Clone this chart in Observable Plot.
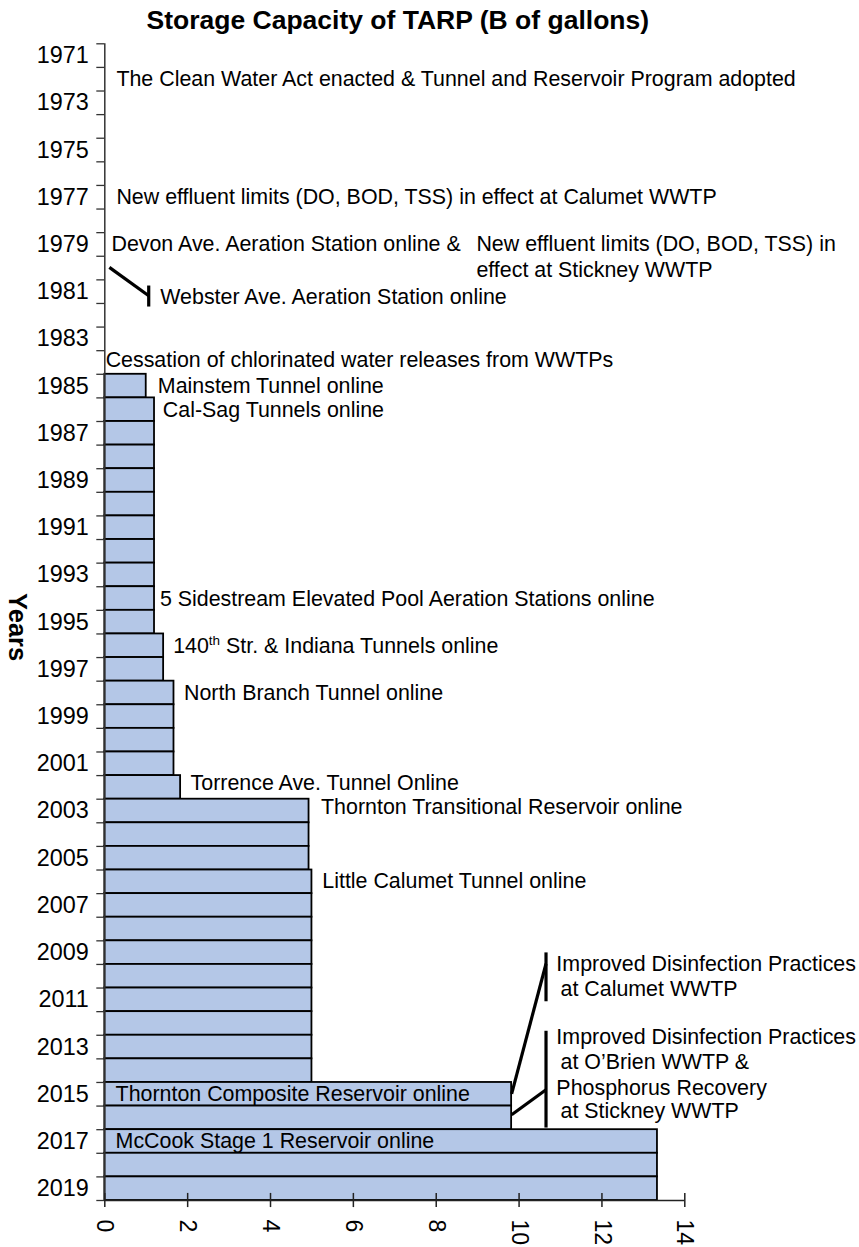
<!DOCTYPE html>
<html>
<head>
<meta charset="utf-8">
<script src="https://cdn.jsdelivr.net/npm/d3@7"></script>
<script src="https://cdn.jsdelivr.net/npm/@observablehq/plot@0.6"></script>
<style>
  html, body { margin: 0; padding: 0; background: #fff; }
  #chart svg { display: block; }
</style>
</head>
<body>
<div id="chart"></div>
<script>
// ---- data ----
const chartTitle = "Storage Capacity of TARP (B of gallons)";
const yAxisTitle = "Years";
const years = [1985, 1986, 1987, 1988, 1989, 1990, 1991, 1992, 1993, 1994, 1995,
  1996, 1997, 1998, 1999, 2000, 2001, 2002, 2003, 2004, 2005, 2006, 2007, 2008,
  2009, 2010, 2011, 2012, 2013, 2014, 2015, 2016, 2017, 2018, 2019];
const capacity = [1.0, 1.2, 1.2, 1.2, 1.2, 1.2, 1.2, 1.2, 1.2, 1.2, 1.2,
  1.42, 1.42, 1.67, 1.67, 1.67, 1.67, 1.83, 4.93, 4.93, 4.93, 5.0, 5.0, 5.0,
  5.0, 5.0, 5.0, 5.0, 5.0, 5.0, 9.82, 9.82, 13.34, 13.34, 13.34];
const yearLabels = [1971, 1973, 1975, 1977, 1979, 1981, 1983, 1985, 1987, 1989, 1991,
  1993, 1995, 1997, 1999, 2001, 2003, 2005, 2007, 2009, 2011, 2013, 2015, 2017, 2019];
const xTickLabels = [0, 2, 4, 6, 8, 10, 12, 14];

const eventText = [
  "The Clean Water Act enacted & Tunnel and Reservoir Program adopted",
  "New effluent limits (DO, BOD, TSS) in effect at Calumet WWTP",
  "Devon Ave. Aeration Station online &",
  "New effluent limits (DO, BOD, TSS) in",
  "effect at Stickney WWTP",
  "Webster Ave. Aeration Station online",
  "Cessation of chlorinated water releases from WWTPs",
  "Mainstem Tunnel online",
  "Cal-Sag Tunnels online",
  "5 Sidestream Elevated Pool Aeration Stations online",
  "140th Str. & Indiana Tunnels online",
  "North Branch Tunnel online",
  "Torrence Ave. Tunnel Online",
  "Thornton Transitional Reservoir online",
  "Little Calumet Tunnel online",
  "Thornton Composite Reservoir online",
  "McCook Stage 1 Reservoir online",
  "Improved Disinfection Practices",
  "at Calumet WWTP",
  "Improved Disinfection Practices",
  "at O\u2019Brien WWTP &",
  "Phosphorus Recovery",
  "at Stickney WWTP"
];
const eventX = [0.28, 0.28, 0.16, 8.97, 8.97, 1.34, 0.02, 1.28, 1.4, 1.33, 1.65, 1.91,
  2.07, 5.22, 5.25, 0.26, 0.26, 10.9, 11.0, 10.9, 11.0, 10.9, 11.0];
const eventYear = [1972, 1977, 1979, 1979, 1980.1, 1981.25, 1983.92, 1985, 1986, 1994.02,
  1996, 1998, 2001.83, 2002.85, 2005.97, 2015, 2017, 2009.48, 2010.54, 2012.6, 2013.66,
  2014.72, 2015.7];

// leader lines (data coordinates)
const leaderX1 = [0.11, 1.06, 9.82, 10.65, 9.82, 10.65];
const leaderY1 = [1979.97, 1980.74, 2014.98, 2008.99, 2015.87, 2012.31];
const leaderX2 = [1.06, 1.06, 10.65, 10.65, 10.65, 10.65];
const leaderY2 = [1981.17, 1981.63, 2009.47, 2011.06, 2014.81, 2016.41];

// ---- tables built from the arrays ----
const bars = years.map((y, i) => ({year: y, value: capacity[i]}));
const events = eventText.map((t, i) => ({text: t, x: eventX[i], year: eventYear[i]}));
const leaders = leaderX1.map((d, i) => ({x1: d, y1: leaderY1[i], x2: leaderX2[i], y2: leaderY2[i]}));
const firstYear = 1971, lastYear = 2019;
const boundaries = d3.range(firstYear - 0.5, lastYear + 1, 1);

const font = "'Liberation Sans', Arial, sans-serif";

const chart = Plot.plot({
  width: 859,
  height: 1247,
  marginTop: 43.3,
  marginBottom: 47,
  marginLeft: 104.3,
  marginRight: 174.7,
  style: {fontFamily: font, color: "#000", background: "#fff"},
  x: {domain: [0, 14]},
  y: {domain: [firstYear - 0.5, lastYear + 0.5], reverse: true},
  marks: [
    Plot.rect(bars, {x1: 0, x2: "value", y1: d => d.year - 0.5, y2: d => d.year + 0.5,
      fill: "#b4c7e7", stroke: "#000", strokeWidth: 1.8}),
    // y axis line and ticks
    Plot.ruleX([0], {y1: firstYear - 0.5, y2: lastYear + 0.5, stroke: "#333", strokeWidth: 1.5}),
    Plot.axisY(boundaries, {tickSize: 8, tickFormat: () => "", stroke: "#333", strokeWidth: 1.3, label: null}),
    Plot.axisY(yearLabels, {tickSize: 0, tickPadding: 16, fontSize: 23.4, tickFormat: d => String(d), label: null, fill: "#000"}),
    // x axis line, ticks and labels
    Plot.ruleY([lastYear + 0.5], {x1: 0, x2: 14, stroke: "#222", strokeWidth: 1.5}),
    Plot.ruleX(xTickLabels, {x: d => d, y1: lastYear + 0.2, y2: lastYear + 0.8, stroke: "#222", strokeWidth: 1.5}),
    Plot.axisX(xTickLabels, {tickSize: 0, tickPadding: 19, tickRotate: 90, fontSize: 23, tickFormat: d => String(d), label: null, fill: "#000"}),
    // leader lines
    Plot.link(leaders, {x1: "x1", y1: "y1", x2: "x2", y2: "y2", stroke: "#000", strokeWidth: 3.2}),
    // annotations
    Plot.text(events, {x: "x", y: "year", text: "text", textAnchor: "start", fontSize: 21.4, fill: "#000"}),
    // titles
    Plot.text([chartTitle], {frameAnchor: "top", lineAnchor: "middle", dx: 3, dy: -23, fontSize: 26.5, fontWeight: "bold", fill: "#000"}),
    Plot.text([yAxisTitle], {frameAnchor: "left", textAnchor: "middle", dx: -88, dy: 5, rotate: 90, fontSize: 25.5, fontWeight: "bold", fill: "#000"})
  ]
});

// superscript "th" in "140th"
d3.select(chart).selectAll("text").each(function() {
  const el = d3.select(this);
  if (this.textContent === "140th Str. & Indiana Tunnels online") {
    el.text(null);
    el.append("tspan").text("140");
    el.append("tspan").attr("dy", "-8").attr("font-size", 13.5).text("th");
    el.append("tspan").attr("dy", "8").text(" Str. & Indiana Tunnels online");
  }
});

document.getElementById("chart").appendChild(chart);
</script>
</body>
</html>
